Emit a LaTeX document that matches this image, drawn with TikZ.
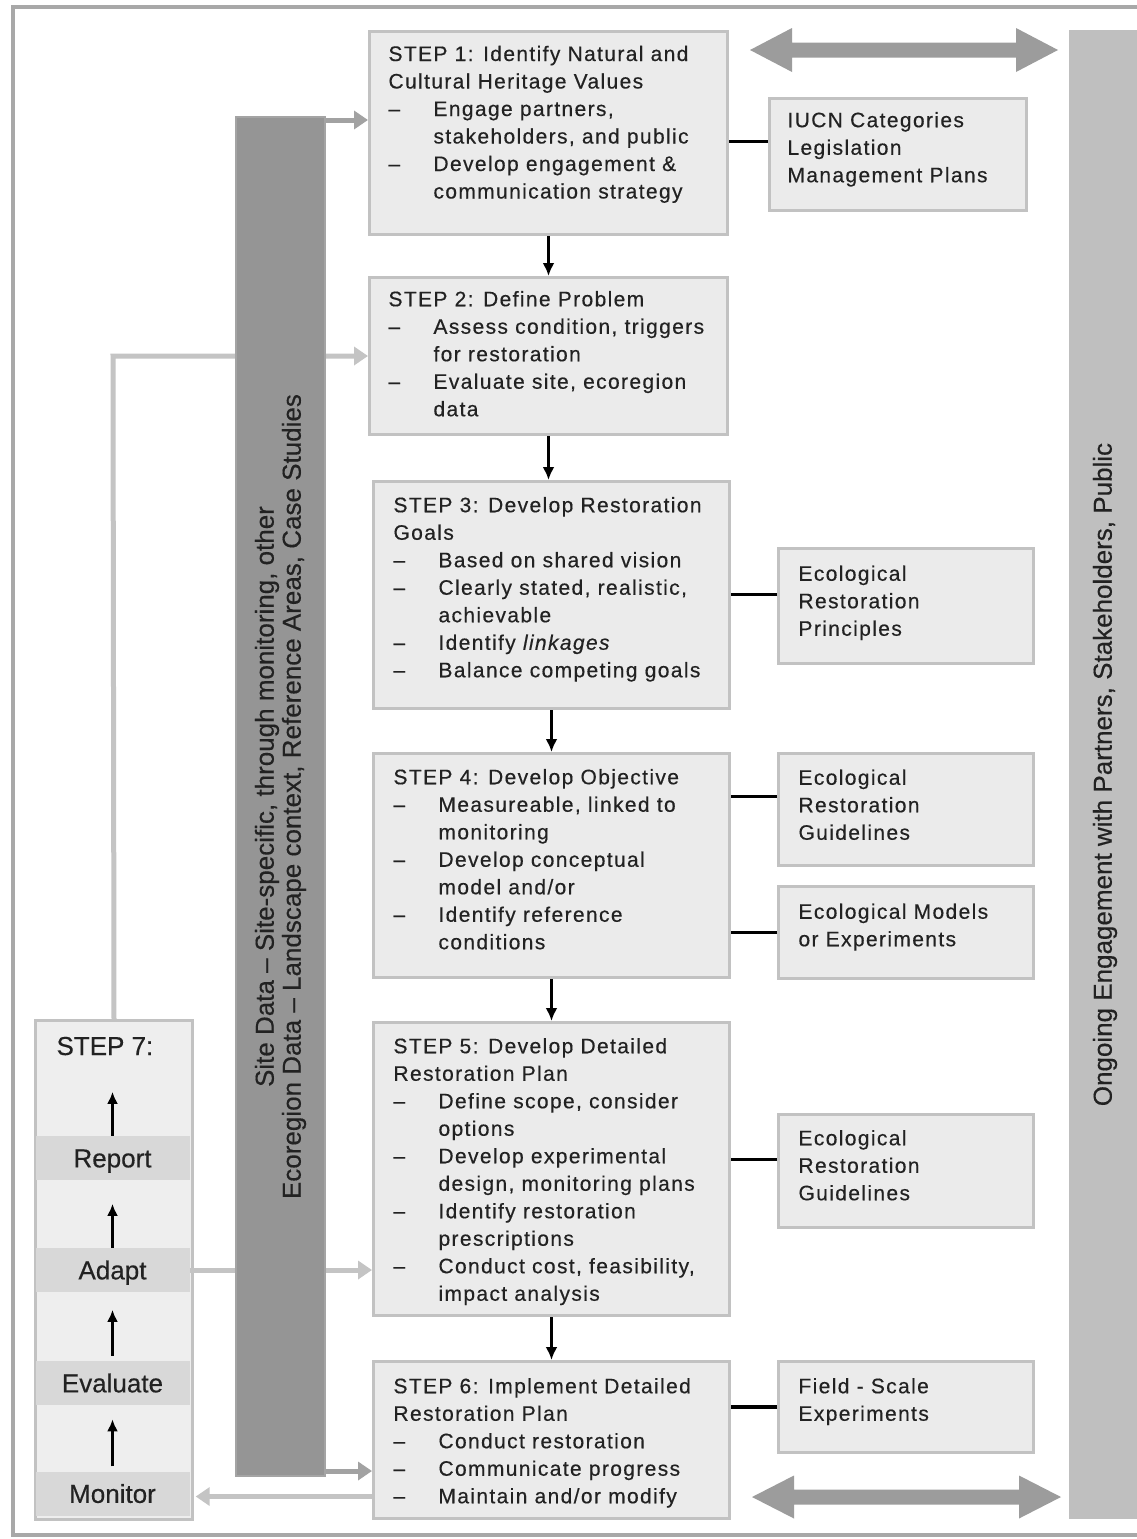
\documentclass[tikz,border=0pt]{standalone}
\usepackage{fontspec}
\setmainfont{Liberation Sans}[FakeBold=0.4]
\newfontfamily\boxfont{Liberation Sans}[LetterSpace=6.5,FakeBold=0.4]
\usetikzlibrary{arrows.meta}
\definecolor{boxfill}{HTML}{EBEBEB}
\definecolor{boxline}{HTML}{C2C2C2}
\definecolor{txtc}{HTML}{222222}
\definecolor{bandfill}{HTML}{D8D8D8}
\definecolor{sevfill}{HTML}{EEEEEE}
\definecolor{darkbar}{HTML}{959595}
\definecolor{darkbarline}{HTML}{A4A4A4}
\definecolor{rightbar}{HTML}{BFBFBF}
\definecolor{dblarrow}{HTML}{9C9C9C}
\definecolor{fbline}{HTML}{C4C4C4}
\definecolor{bararrow}{HTML}{A2A2A2}
\definecolor{framec}{HTML}{A8A8A8}

\newcommand{\itm}{\par\hangindent=45pt\hangafter=1\relax\makebox[45pt][l]{–}}
% width, height, top skip, left skip, content
\newcommand{\bxt}[5]{\begin{minipage}[t][#2][t]{#1}\vspace*{#3}\boxfont\fontsize{21}{27.5}\selectfont\parindent=0pt\parskip=0pt\leftskip=#4\rightskip=-40pt plus 1fil\parfillskip=0pt plus 1fil\relax\strut #5\end{minipage}}

\tikzset{
  stepbox/.style={draw=boxline, fill=boxfill, line width=3pt, inner sep=0pt, anchor=north west, text=txtc},
  band/.style={fill=bandfill, minimum width=154pt, minimum height=44pt, inner sep=0pt, text=txtc,
    font=\fontsize{26}{30}\selectfont, text height=18.7pt, text depth=0pt},
  downarr/.style={black, line width=2.6pt, -{Latex[length=13pt,width=12pt]}},
  uparr/.style={black, line width=3pt, -{Latex[length=12pt,width=11pt]}},
  conn/.style={black, line width=3.5pt},
  fb/.style={fbline, line width=5pt, -{Triangle[length=14pt,width=18pt]}},
  barr/.style={bararrow, line width=5pt, -{Triangle[length=14pt,width=18pt]}},
}

\begin{document}
\begin{tikzpicture}[x=1pt,y=-1pt]
\useasboundingbox (0,0) rectangle (1137,1539);
\fill[white] (0,0) rectangle (1137,1539);
% outer frame
\draw[framec, line width=4pt] (13,7) rectangle (1160,1535);

% right engagement bar
\node[rotate=90, fill=rightbar, minimum width=1489pt, minimum height=72pt, inner sep=0pt,
  text=txtc, font=\fontsize{26}{30}\selectfont] (engage) at (1105,774.5)
  {Ongoing Engagement with Partners, Stakeholders, Public};

% double arrows
\fill[dblarrow] (750,50) -- (792,28) -- (792,42.5) -- (1016,42.5) -- (1016,28) -- (1058,50)
  -- (1016,72) -- (1016,57.5) -- (792,57.5) -- (792,72) -- cycle;
\fill[dblarrow] (752,1497) -- (794,1475.5) -- (794,1489.5) -- (1019,1489.5) -- (1019,1475.5)
  -- (1061,1497) -- (1019,1518.5) -- (1019,1504.5) -- (794,1504.5) -- (794,1518.5) -- cycle;

% step boxes
\node[stepbox] (s1) at (368,30) {\bxt{358pt}{203pt}{10.25pt}{19pt}{STEP 1: Identify Natural and\\Cultural Heritage Values
\itm Engage partners,\\stakeholders, and public
\itm Develop engagement \&\\communication strategy}};

\node[stepbox] (s2) at (368,276) {\bxt{358pt}{157pt}{9.5pt}{19pt}{STEP 2: Define Problem
\itm Assess condition, triggers\\for restoration
\itm Evaluate site, ecoregion\\data}};

\node[stepbox] (s3) at (372,480) {\bxt{356pt}{227pt}{11.5pt}{20pt}{STEP 3: Develop Restoration\\Goals
\itm Based on shared vision
\itm Clearly stated, realistic,\\achievable
\itm Identify \textit{linkages}
\itm Balance competing goals}};

\node[stepbox] (s4) at (372,752) {\bxt{356pt}{224pt}{11.5pt}{20pt}{STEP 4: Develop Objective
\itm Measureable, linked to\\monitoring
\itm Develop conceptual\\model and/or
\itm Identify reference\\conditions}};

\node[stepbox] (s5) at (372,1021) {\bxt{356pt}{293pt}{11.5pt}{20pt}{STEP 5: Develop Detailed\\Restoration Plan
\itm Define scope, consider\\options
\itm Develop experimental\\design, monitoring plans
\itm Identify restoration\\prescriptions
\itm Conduct cost, feasibility,\\impact analysis}};

\node[stepbox] (s6) at (372,1360) {\bxt{356pt}{157pt}{12.5pt}{20pt}{STEP 6: Implement Detailed\\Restoration Plan
\itm Conduct restoration
\itm Communicate progress
\itm Maintain and/or modify}};

% side boxes
\node[stepbox] (iucn) at (768,97) {\bxt{257pt}{112pt}{9.5pt}{18pt}{IUCN Categories\\Legislation\\Management Plans}};
\node[stepbox] (prin) at (777,547) {\bxt{255pt}{115pt}{13pt}{20pt}{Ecological\\Restoration\\Principles}};
\node[stepbox] (guid) at (777,752) {\bxt{255pt}{112pt}{12pt}{20pt}{Ecological\\Restoration\\Guidelines}};
\node[stepbox] (models) at (777,885) {\bxt{255pt}{92pt}{13pt}{20pt}{Ecological Models\\or Experiments}};
\node[stepbox] (guidb) at (777,1113) {\bxt{255pt}{113pt}{11.5pt}{20pt}{Ecological\\Restoration\\Guidelines}};
\node[stepbox] (field) at (777,1360) {\bxt{255pt}{91pt}{12.5pt}{20pt}{Field - Scale\\Experiments}};

% step 7
\node[stepbox, fill=sevfill, minimum width=157pt, minimum height=499pt] (s7) at (34,1019) {};
\node[anchor=base west, text=txtc, font=\fontsize{26}{30}\selectfont] (s7t) at (53,1055) {STEP 7:};
\node[band] (report) at (112.5,1158) {Report};
\node[band] (adapt) at (112.5,1270) {Adapt};
\node[band] (evaluate) at (112.5,1383) {Evaluate};
\node[band] (monitor) at (112.5,1493.5) {Monitor};
\draw[uparr] (report.north) -- ++(0,-44);
\draw[uparr] (adapt.north) -- ++(0,-44);
\draw[uparr] ([yshift=5pt]evaluate.north) -- ++(0,-46);
\draw[uparr] ([yshift=5pt]monitor.north) -- ++(0,-47);

% feedback lines (behind the data bar)
\coordinate (fby) at (113,356);
\draw[fb] (s7.north) -- (fby) -- (fby -| s2.west);
\draw[fb] (adapt.east) -- (adapt.east -| s5.west);
\draw[fb, shorten >=6pt] ([yshift=-3pt]s6.west |- monitor.east) -- ([yshift=-3pt]monitor.east);

% data bar
\coordinate (bt) at (322,120);
\coordinate (bb) at (322,1471);
\draw[barr] (bt) -- (bt -| s1.west);
\draw[barr] (bb) -- (bb -| s6.west);
\node[rotate=90, fill=darkbar, draw=darkbarline, line width=1.5pt, minimum width=1359pt, minimum height=89pt,
  inner sep=0pt, align=center, text=txtc, font=\fontsize{26}{27}\selectfont] (bar) at (280.5,796.5)
  {Site Data – Site-specific, through monitoring, other\\Ecoregion Data – Landscape context, Reference Areas, Case Studies};

% step flow arrows
\draw[downarr] (s1.south) -- (s2.north);
\draw[downarr] (s2.south) -- (s2.south |- s3.north);
\draw[downarr] (s3.south) -- (s4.north);
\draw[downarr] (s4.south) -- (s5.north);
\draw[downarr] (s5.south) -- (s6.north);

% side connectors
\draw[conn] ([yshift=13pt]iucn.west) -- ([yshift=13pt]iucn.west -| s1.east);
\draw[conn] ([yshift=11.5pt]prin.west) -- ([yshift=11.5pt]prin.west -| s3.east);
\draw[conn] ([yshift=13pt]guid.west) -- ([yshift=13pt]guid.west -| s4.east);
\draw[conn] (models.west) -- (models.west -| s4.east);
\draw[conn] ([yshift=11.5pt]guidb.west) -- ([yshift=11.5pt]guidb.west -| s5.east);
\draw[conn] (field.west) -- (field.west -| s6.east);
\end{tikzpicture}
\end{document}
